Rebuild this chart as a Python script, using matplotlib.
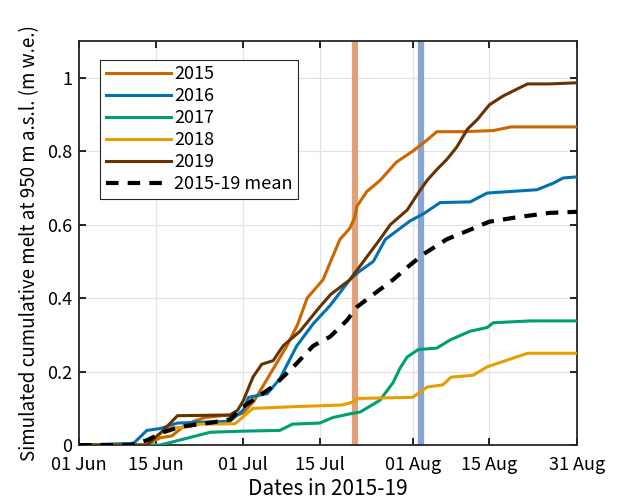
import matplotlib
matplotlib.use('Agg')
import matplotlib.pyplot as plt

plt.rcParams['font.family'] = ['Noto Sans CJK JP', 'DejaVu Sans']

# days since 01 Jun, cumulative melt (m w.e.)
d2015 = [0, 12.4, 14.8, 17, 19, 21, 23, 26, 29, 30, 32, 34.4, 36, 38, 40, 41.7, 44.6,
         46, 47.7, 49.5, 50.4, 50.8, 52.6, 55, 58, 61, 63.6, 65.4, 70, 75.7, 79, 91]
v2015 = [0, 0, 0.02, 0.025, 0.05, 0.065, 0.075, 0.08, 0.082, 0.087, 0.12, 0.18, 0.22, 0.27, 0.33, 0.40, 0.45,
         0.50, 0.56, 0.59, 0.62, 0.65, 0.69, 0.72, 0.77, 0.80, 0.83, 0.853, 0.853, 0.856, 0.866, 0.866]

d2016 = [0, 10, 12.4, 14.8, 18, 27.6, 30, 31, 34.4, 36.7, 39.8, 42.8, 45.9, 49.5, 51, 53.8, 56,
         60.5, 63, 66, 71.5, 74.6, 83.7, 86.7, 88.5, 91]
v2016 = [0, 0.005, 0.04, 0.045, 0.06, 0.065, 0.095, 0.13, 0.14, 0.18, 0.27, 0.33, 0.38, 0.45, 0.47, 0.50, 0.56,
         0.61, 0.63, 0.66, 0.662, 0.686, 0.695, 0.713, 0.727, 0.73]

d2017 = [0, 14.8, 18.5, 24, 30, 36.7, 39, 44, 46.4, 49.5, 51.4, 55, 57.4, 58.7, 60, 62, 65.4,
         67.8, 71.5, 74.6, 75.7, 82.5, 91]
v2017 = [0, 0, 0.014, 0.035, 0.038, 0.04, 0.057, 0.06, 0.075, 0.085, 0.09, 0.122, 0.17, 0.21, 0.24, 0.26, 0.264,
         0.286, 0.31, 0.32, 0.333, 0.338, 0.338]

d2018 = [0, 12.4, 16, 20, 22, 28.5, 30, 31.8, 40, 48, 50, 50.8, 61, 63.6, 66.5, 68, 72,
         74.6, 78, 82, 91]
v2018 = [0, 0, 0.045, 0.05, 0.057, 0.058, 0.077, 0.10, 0.105, 0.109, 0.117, 0.127, 0.13, 0.158, 0.164, 0.185, 0.19,
         0.213, 0.23, 0.25, 0.25]

d2019 = [0, 12.4, 15.4, 18, 27.6, 29, 30, 31.8, 33.4, 35.5, 37.3, 40.4, 44, 46, 49.5, 55, 56.9,
         60, 62, 63.6, 65.4, 67.2, 69, 71, 72.8, 75, 77.5, 80.6, 82, 86, 91]
v2019 = [0, 0, 0.04, 0.08, 0.082, 0.095, 0.12, 0.185, 0.22, 0.23, 0.27, 0.31, 0.376, 0.41, 0.45, 0.56, 0.60,
         0.64, 0.686, 0.72, 0.75, 0.777, 0.81, 0.86, 0.886, 0.926, 0.95, 0.973, 0.983, 0.983, 0.986]

dmean = [0, 9.3, 12.4, 15.4, 18.5, 24.5, 27.6, 30, 32.5, 35.5, 39, 42.8, 45.9, 49, 50.8, 53.8,
         57.4, 60.5, 63, 67.2, 70, 75, 80, 86, 91]
vmean = [0, 0, 0.013, 0.035, 0.05, 0.062, 0.07, 0.104, 0.13, 0.16, 0.21, 0.27, 0.295, 0.34, 0.376, 0.41,
         0.45, 0.49, 0.52, 0.56, 0.577, 0.608, 0.62, 0.632, 0.635]

vline_days = [50.4, 62.5]
tick_days = [0, 14, 30, 44, 61, 75, 91]
tick_labels = ['01 Jun', '15 Jun', '01 Jul', '15 Jul', '01 Aug', '15 Aug', '31 Aug']

fig = plt.figure(figsize=(6.17, 4.99), dpi=100)
ax = fig.add_axes([0.128, 0.108, 0.807, 0.81])

ax.axvline(vline_days[0], color='#e0a078', lw=4.5, zorder=1)
ax.axvline(vline_days[1], color='#87a5d2', lw=4.5, zorder=1)

lw = 2.2
ax.plot(d2015, v2015, color='#cc6600', lw=lw, label='2015', zorder=3)
ax.plot(d2016, v2016, color='#0072b2', lw=lw, label='2016', zorder=3)
ax.plot(d2017, v2017, color='#009e73', lw=lw, label='2017', zorder=3)
ax.plot(d2018, v2018, color='#e69f00', lw=lw, label='2018', zorder=3)
ax.plot(d2019, v2019, color='#663300', lw=lw, label='2019', zorder=3)
ax.plot(dmean, vmean, color='black', lw=3, ls=(0, (3, 2.2)), label='2015-19 mean', zorder=4)

ax.set_xlim(0, 91)
ax.set_ylim(0, 1.1)
ax.set_xticks(tick_days)
ax.set_xticklabels(tick_labels)
ax.set_yticks([0, 0.2, 0.4, 0.6, 0.8, 1])
ax.set_yticklabels(['0', '0.2', '0.4', '0.6', '0.8', '1'])
ax.tick_params(direction='in', top=True, right=True, labelsize=13, length=5, width=1.2)
ax.tick_params(axis='x', pad=8)
ax.tick_params(axis='y', pad=5)
ax.grid(True, color='#e2e2e2', lw=0.9, zorder=0)
ax.set_axisbelow(True)
for s in ax.spines.values():
    s.set_linewidth(1.3)
    s.set_color('#262626')

ax.set_xlabel('Dates in 2015-19', fontsize=15, labelpad=3)
ax.set_ylabel('Simulated cumulative melt at 950 m a.s.l. (m w.e.)', fontsize=13.5, labelpad=5)

leg = ax.legend(loc='upper left', bbox_to_anchor=(0.025, 0.975), fontsize=13, handlelength=3.6,
                handletextpad=0.2, labelspacing=0.22, borderpad=0.3, fancybox=False,
                framealpha=1, edgecolor='#262626')
leg.get_frame().set_linewidth(0.8)

fig.savefig('out.png', dpi=100)
